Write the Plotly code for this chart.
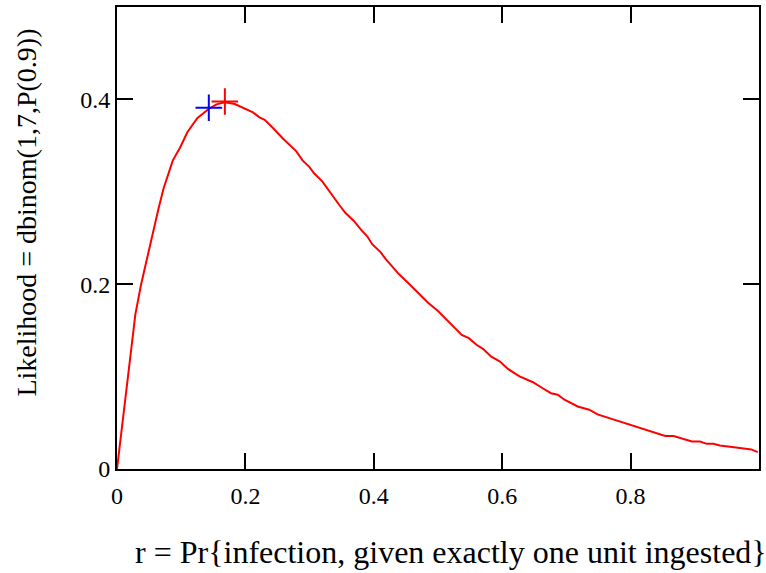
import plotly.graph_objects as go

r_values = [0, 0.0158, 0.0286, 0.0375, 0.0492, 0.057, 0.0647, 0.0725, 0.0802, 0.087,
            0.0983, 0.1096, 0.125, 0.1427, 0.155, 0.168, 0.1834, 0.196, 0.2118, 0.222,
            0.230, 0.243, 0.258, 0.279, 0.289, 0.2995, 0.307, 0.320, 0.333, 0.346,
            0.356, 0.369, 0.380, 0.390, 0.3975, 0.4105, 0.418, 0.431, 0.439, 0.454,
            0.4595, 0.470, 0.485, 0.500, 0.521, 0.537, 0.548, 0.560, 0.5705, 0.583,
            0.596, 0.609, 0.627, 0.648, 0.663, 0.676, 0.6865, 0.697, 0.7175, 0.7356,
            0.7485, 0.764, 0.7845, 0.805, 0.823, 0.841, 0.854, 0.867, 0.8827, 0.8955,
            0.908, 0.9187, 0.929, 0.939, 0.955, 0.9625, 0.9755, 0.988, 0.998]
likelihood = [0, 0.0957, 0.1674, 0.1997, 0.2355, 0.2606, 0.282, 0.3036, 0.3197, 0.334,
              0.348, 0.3645, 0.3796, 0.3896, 0.3946, 0.3968, 0.395, 0.391, 0.386, 0.3806,
              0.378, 0.369, 0.358, 0.344, 0.334, 0.327, 0.320, 0.311, 0.298, 0.286,
              0.277, 0.2685, 0.259, 0.2516, 0.2433, 0.2347, 0.2276, 0.2175, 0.211, 0.201,
              0.197, 0.190, 0.1796, 0.171, 0.1567, 0.1452, 0.1416, 0.1344, 0.1298, 0.1215,
              0.1165, 0.1083, 0.1003, 0.0939, 0.0874, 0.082, 0.0803, 0.075, 0.0677, 0.0642,
              0.0591, 0.0556, 0.0509, 0.0462, 0.0427, 0.0384, 0.0358, 0.0358, 0.0323, 0.0298,
              0.0298, 0.0272, 0.0272, 0.0255, 0.024, 0.0233, 0.0218, 0.0212, 0.0183]

max_r = [0.168]
max_like = [0.3978]
alt_r = [0.143]
alt_like = [0.391]

x_ticks = [0, 0.2, 0.4, 0.6, 0.8]
x_ticktext = ["0", "0.2", "0.4", "0.6", "0.8"]
y_ticks = [0, 0.2, 0.4]
y_ticktext = ["0", "0.2", "0.4"]

x_title = "r = Pr{infection, given exactly one unit ingested}"
y_title = "Likelihood = dbinom(1,7,P(0.9))"

FONT = "Liberation Serif"

fig = go.Figure()
fig.add_trace(go.Scatter(x=r_values, y=likelihood, mode="lines",
                         line=dict(color="#ff0000", width=2), showlegend=False))
fig.add_trace(go.Scatter(x=max_r, y=max_like, mode="markers",
                         marker=dict(symbol="cross-thin", size=19,
                                     line=dict(color="#ff0000", width=2)),
                         showlegend=False))
fig.add_trace(go.Scatter(x=alt_r, y=alt_like, mode="markers",
                         marker=dict(symbol="cross-thin", size=19,
                                     line=dict(color="#0000ff", width=2)),
                         showlegend=False))

axis_common = dict(showline=True, linecolor="black", linewidth=2, mirror="ticks",
                   ticks="inside", ticklen=16, tickwidth=2, tickcolor="black",
                   showgrid=False, zeroline=False,
                   tickfont=dict(family=FONT, size=24, color="black"))

fig.update_xaxes(range=[0, 1.0], tickvals=x_ticks, ticktext=x_ticktext,
                 ticklabelstandoff=4, **axis_common)
fig.update_yaxes(range=[0, 0.5], tickvals=y_ticks, ticktext=y_ticktext,
                 ticklabelstandoff=0, **axis_common)

fig.add_annotation(text=x_title, xref="paper", yref="paper", x=0.52, y=-0.179,
                   showarrow=False, xanchor="center", yanchor="middle",
                   font=dict(family=FONT, size=32, color="black"))
fig.add_annotation(text=y_title, xref="paper", yref="paper", x=-0.141, y=0.556,
                   showarrow=False, xanchor="center", yanchor="middle", textangle=-90,
                   font=dict(family=FONT, size=28, color="black"))

fig.update_layout(width=766, height=573, plot_bgcolor="white", paper_bgcolor="white",
                  margin=dict(l=117, r=5, t=5, b=104, pad=0))

fig.write_html("out.html")
